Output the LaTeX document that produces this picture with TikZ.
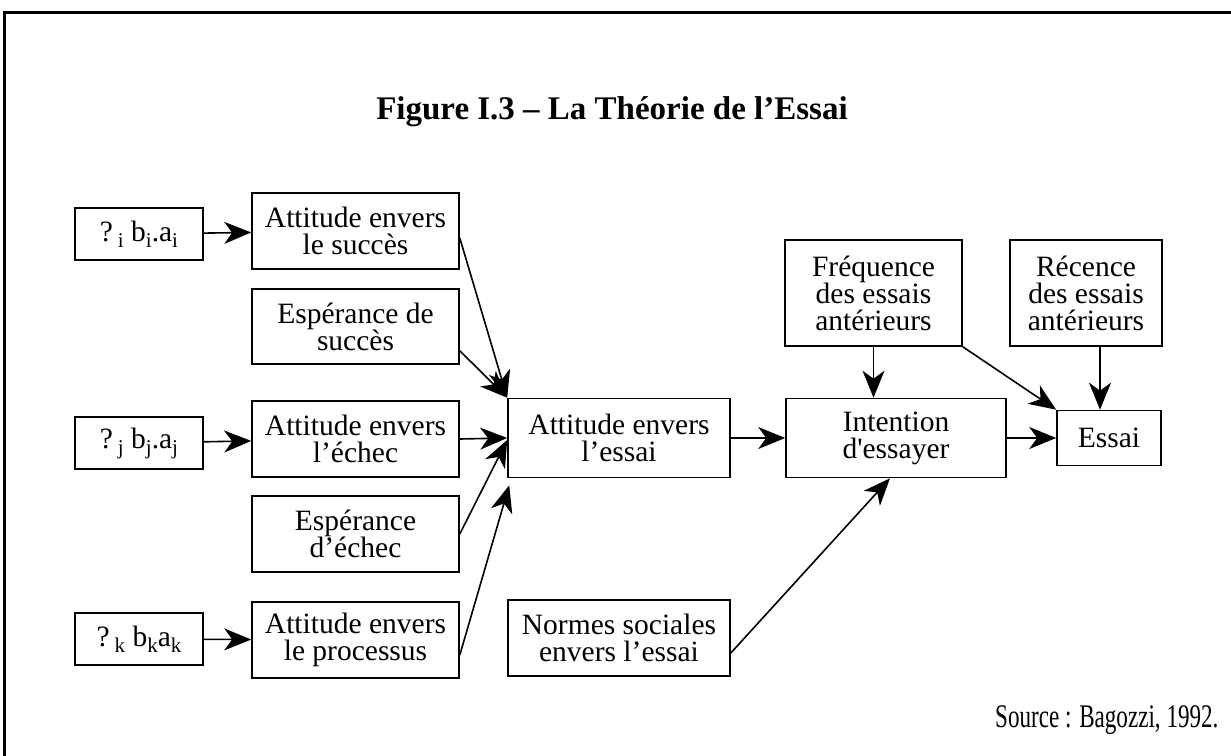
\documentclass[tikz,border=0pt]{standalone}
\usepackage{fontspec}
\setmainfont{Liberation Serif}
\usetikzlibrary{arrows.meta,calc}
\newcommand{\ind}[1]{\raisebox{-6pt}{\fontsize{21}{21}\selectfont #1}}

\begin{document}
\begin{tikzpicture}[x=1pt, y=-1pt,
    boite/.style={draw, line width=1.6pt, align=center, inner sep=0pt,
      font=\fontsize{29.5}{27}\selectfont},
    fleche/.style={line width=1.6pt, -{Stealth[length=27pt,width=22pt,inset=8pt]}}]
  \useasboundingbox (0,0) rectangle (1231,755);
  \draw [line width=3pt] (4,770) -- (4,12) -- (1240,12);
  \node (titre) at (612,112) {\fontsize{33}{36}\selectfont\bfseries Figure I.3 -- La Théorie de l’Essai};

  \node [boite, minimum width=128pt, minimum height=52pt] (bi) at (139,234)
    {?\,\ind{i} b\ind{i}.a\ind{i}};
  \node [boite, minimum width=128pt, minimum height=52pt] (bj) at (139,443)
    {?\,\ind{j} b\ind{j}.a\ind{j}};
  \node [boite, minimum width=128pt, minimum height=52pt] (bk) at (139,639)
    {?\,\ind{k} b\ind{k}a\ind{k}};

  \node [boite, minimum width=207pt, minimum height=76pt] (attsucces) at (355.5,231)
    {Attitude envers\\le succès};
  \node [boite, minimum width=207pt, minimum height=75pt] (espsucces) at (355.5,326.5)
    {Espérance de\\succès};
  \node [boite, minimum width=207pt, minimum height=76pt] (attechec) at (355.5,439)
    {Attitude envers\\l’échec};
  \node [boite, minimum width=207pt, minimum height=76pt] (espechec) at (355.5,534)
    {Espérance\\d’échec};
  \node [boite, minimum width=207pt, minimum height=76pt] (attproc) at (355.5,640)
    {Attitude envers\\le processus};

  \node [boite, minimum width=222pt, minimum height=79pt] (attessai) at (619,438)
    {Attitude envers\\l’essai};
  \node [boite, minimum width=222pt, minimum height=76pt] (normes) at (619,638)
    {Normes sociales\\envers l’essai};
  \node [boite, minimum width=220pt, minimum height=79pt] (intention) at (896,438)
    {Intention\\d\textquotesingle essayer};
  \node [boite, minimum width=177pt, minimum height=106pt] (frequence) at (873.5,293)
    {Fréquence\\des essais\\antérieurs};
  \node [boite, minimum width=152pt, minimum height=106pt] (recence) at (1086,293)
    {Récence\\des essais\\antérieurs};
  \node [boite, minimum width=104pt, minimum height=55pt] (essai) at (1109,438) {Essai};

  \node [anchor=east] (source) at (1222,720)
    {\scalebox{0.7}[1]{\fontsize{33}{33}\selectfont Source : Bagozzi, 1992.}};

  \draw [fleche] (bi) -- (attsucces);
  \draw [fleche] (bj) -- (attechec);
  \draw [fleche] (bk) -- (attproc);
  \draw [fleche] ($(attsucces.east)+(0,7)$) -- (attessai.north west);
  \draw [fleche] ($(espsucces.south east)+(0,-14)$) -- (attessai.north west);
  \draw [fleche] (attechec.east) -- (attessai.west);
  \draw [fleche] (espechec.east) -- ($(attessai.west)+(0,2)$);
  \draw [fleche] ($(attproc.east)+(0,15)$) -- ($(attessai.south west)+(2,7)$);
  \draw [fleche] (attessai) -- (intention);
  \draw [fleche] ($(normes.east)+(0,15)$) -- ($(intention.south)+(-6,0)$);
  \draw [fleche] (frequence.south) -- (frequence.south |- intention.north);
  \draw [fleche] (frequence.south east) -- (essai.north west);
  \draw [fleche] (recence.south -| 1100,0) -- (essai.north -| 1100,0);
  \draw [fleche] (intention) -- (essai);
\end{tikzpicture}
\end{document}
